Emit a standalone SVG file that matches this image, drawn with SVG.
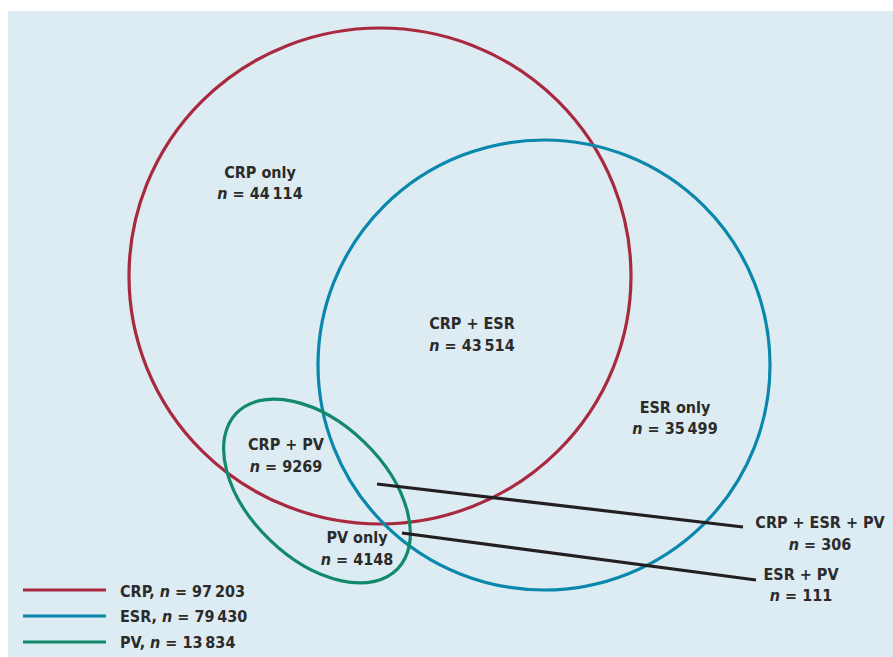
<svg xmlns="http://www.w3.org/2000/svg" width="893" height="657" viewBox="0 0 893 657">
<style>
.t{font-family:"DejaVu Sans Condensed","DejaVu Sans","Liberation Sans",sans-serif;font-weight:bold;font-size:16px;fill:#2b2b2b;text-anchor:middle}
.l{text-anchor:start}
.n{font-style:italic}
.c{fill:none;stroke-width:3.2}
.crp{stroke:#a9293f}
.esr{stroke:#0a87ad}
.pv{stroke:#11896a}
.k{stroke:#231f20;stroke-width:3.2}
</style>
<rect x="0" y="0" width="893" height="657" fill="#ffffff"/>
<rect x="8" y="11" width="885" height="646" fill="#ddebf2"/>
<g id="crp"><ellipse class="c crp" cx="380" cy="276" rx="251" ry="248"/></g>
<g id="esr"><ellipse class="c esr" cx="544" cy="365" rx="226" ry="225"/></g>
<g id="pv"><ellipse class="c pv" cx="317" cy="491" rx="112" ry="68" transform="rotate(44 317 491)"/></g>
<g id="connectors">
<line class="k" x1="377" y1="484" x2="743" y2="527"/>
<line class="k" x1="402" y1="533" x2="756" y2="580"/>
</g>
<g id="crp-only"><text class="t" x="260" y="178">CRP only</text><text class="t" x="260" y="199"><tspan class="n">n</tspan> = 44&#8201;114</text></g>
<g id="crp-esr"><text class="t" x="472" y="329">CRP + ESR</text><text class="t" x="472" y="351"><tspan class="n">n</tspan> = 43&#8201;514</text></g>
<g id="esr-only"><text class="t" x="675" y="413">ESR only</text><text class="t" x="675" y="434"><tspan class="n">n</tspan> = 35&#8201;499</text></g>
<g id="crp-pv"><text class="t" x="286" y="450">CRP + PV</text><text class="t" x="286" y="472"><tspan class="n">n</tspan> = 9269</text></g>
<g id="pv-only"><text class="t" x="357" y="543">PV only</text><text class="t" x="357" y="565"><tspan class="n">n</tspan> = 4148</text></g>
<g id="crp-esr-pv"><text class="t" x="820" y="528">CRP + ESR + PV</text><text class="t" x="820" y="550"><tspan class="n">n</tspan> = 306</text></g>
<g id="esr-pv"><text class="t" x="801" y="580">ESR + PV</text><text class="t" x="801" y="601"><tspan class="n">n</tspan> = 111</text></g>
<g id="legend">
<line class="c crp" x1="23" y1="590" x2="106" y2="590"/>
<line class="c esr" x1="23" y1="616" x2="106" y2="616"/>
<line class="c pv" x1="23" y1="642" x2="106" y2="642"/>
<text class="t l" x="120" y="597">CRP, <tspan class="n">n</tspan> = 97&#8201;203</text>
<text class="t l" x="120" y="622">ESR, <tspan class="n">n</tspan> = 79&#8201;430</text>
<text class="t l" x="120" y="648">PV, <tspan class="n">n</tspan> = 13&#8201;834</text>
</g>
</svg>
